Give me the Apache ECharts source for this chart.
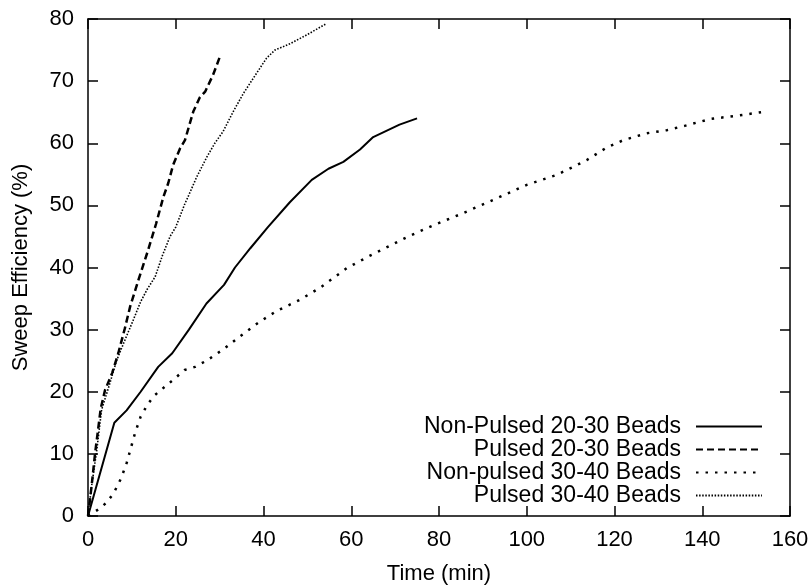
<!DOCTYPE html>
<html>
<head>
<meta charset="utf-8">
<script src="https://cdn.jsdelivr.net/npm/echarts@6/dist/echarts.min.js"></script>
<style>
html,body{margin:0;padding:0;background:#fff;}
#chart{width:811px;height:586px;}
</style>
</head>
<body>
<div id="chart"></div>
<script>
const seriesNames = ['Non-Pulsed 20-30 Beads', 'Pulsed 20-30 Beads', 'Non-pulsed 30-40 Beads', 'Pulsed 30-40 Beads'];

const nonPulsed2030 = [[0,0],[6,15],[8.8,17],[12,20],[16,24],[19.2,26.2],[23,30],[27,34.2],[31,37.2],[33.5,40],[37,43.1],[41,46.5],[46,50.5],[51,54.1],[54.8,55.9],[58.2,57],[62,59],[65,61],[68,62],[71,63],[75,64]];

const pulsed2030 = [[0,0],[0.8,4.7],[1.6,10],[2.9,17.3],[3.9,20.3],[5.5,23],[6.9,26.2],[8.4,30.2],[9.6,33.7],[11.5,38],[13.7,42.8],[15.5,47],[17.2,51.4],[18.3,53.6],[19.4,56.5],[21,59.2],[22.1,60.5],[24,65.1],[25.5,67.4],[26.7,68.3],[28.5,71],[30.1,74]];

const nonPulsed3040 = [[0,0],[2,0.9],[4,2],[5.8,3.6],[7.5,6],[8.8,8.5],[10.7,13.3],[12,16],[13.7,18.1],[15.3,19.5],[17,20.5],[19.4,21.9],[22,23.5],[24.4,24],[27,25],[30.8,26.8],[34.6,28.9],[39,31.2],[43,33],[48.3,34.8],[53,36.8],[59,39.9],[64,41.8],[68.8,43.5],[73,45],[78.7,46.8],[85,48.6],[92.4,50.9],[100,53.3],[106.8,54.9],[110.6,56.2],[113.7,57.3],[118.2,59.3],[122,60.5],[127.3,61.6],[131.9,62.1],[136,62.8],[141.8,63.9],[148.6,64.5],[153.4,65]];

const pulsed3040 = [[0,0],[0.8,4.7],[2,10.6],[3.1,17.1],[5,21.4],[6.5,25],[8.4,28.3],[10,31],[12,34.5],[13.5,36.5],[15.3,38.5],[17,42],[18.7,45],[20,46.5],[22.1,50.3],[22.5,50.9],[24.8,54.6],[27.1,57.8],[28.9,60],[30.8,61.9],[33.1,65.1],[35.4,68],[37.7,70.5],[40.7,73.7],[42.6,75],[46,76],[50,77.5],[54.2,79.2]];

const xTicks = {min: 0, max: 160, interval: 20};
const yTicks = {min: 0, max: 80, interval: 10};

const FONT = '"Liberation Sans", Arial, Helvetica, sans-serif';
const FS = 22;
function frameLine() { return {show: true, onZero: false, lineStyle: {color: '#000', width: 1.5}}; }
function frameTick() { return {show: true, inside: true, length: 10, lineStyle: {color: '#000', width: 1.5}}; }

const chart = echarts.init(document.getElementById('chart'), null, {renderer: 'canvas'});
chart.setOption({
  animation: false,
  backgroundColor: '#fff',
  grid: {left: 88, right: 21, top: 19, bottom: 70, containLabel: false, outerBoundsMode: 'none'},
  legend: {
    orient: 'vertical',
    right: 48,
    top: 415,
    padding: 0,
    align: 'right',
    itemWidth: 66,
    itemHeight: 14,
    itemGap: 0,
    data: seriesNames,
    itemStyle: {opacity: 0},
    textStyle: {fontFamily: FONT, fontSize: 23, color: '#000', lineHeight: 22.7, padding: [0, 10, 0, 0]}
  },
  xAxis: [{
    type: 'value', position: 'bottom', min: xTicks.min, max: xTicks.max, interval: xTicks.interval,
    name: 'Time (min)', nameLocation: 'middle', nameGap: 47,
    nameTextStyle: {fontFamily: FONT, fontSize: FS, color: '#000'},
    axisLine: frameLine(), axisTick: frameTick(), splitLine: {show: false},
    axisLabel: {fontFamily: FONT, fontSize: FS, color: '#000', margin: 13}
  }, {
    type: 'value', position: 'top', min: xTicks.min, max: xTicks.max, interval: xTicks.interval,
    axisLine: frameLine(), axisTick: frameTick(), splitLine: {show: false}, axisLabel: {show: false}
  }],
  yAxis: [{
    type: 'value', position: 'left', min: yTicks.min, max: yTicks.max, interval: yTicks.interval,
    name: 'Sweep Efficiency (%)', nameLocation: 'middle', nameGap: 56,
    nameTextStyle: {fontFamily: FONT, fontSize: FS, color: '#000'},
    axisLine: frameLine(), axisTick: frameTick(), splitLine: {show: false},
    axisLabel: {fontFamily: FONT, fontSize: FS, color: '#000', margin: 14}
  }, {
    type: 'value', position: 'right', min: yTicks.min, max: yTicks.max, interval: yTicks.interval,
    axisLine: frameLine(), axisTick: frameTick(), splitLine: {show: false}, axisLabel: {show: false}
  }],
  series: [{
    name: seriesNames[0], type: 'line', data: nonPulsed2030, symbol: 'none', color: '#000',
    lineStyle: {color: '#000', width: 2, type: 'solid'}
  }, {
    name: seriesNames[1], type: 'line', data: pulsed2030, symbol: 'none', color: '#000',
    lineStyle: {color: '#000', width: 2.5, type: [7, 4], cap: 'butt'}
  }, {
    name: seriesNames[2], type: 'line', data: nonPulsed3040, symbol: 'none', color: '#000',
    lineStyle: {color: '#000', width: 2.5, type: [2.5, 7], cap: 'butt'}
  }, {
    name: seriesNames[3], type: 'line', data: pulsed3040, symbol: 'none', color: '#000',
    lineStyle: {color: '#000', width: 1.6, type: [1.5, 1.6], cap: 'butt'}
  }, {
    name: 'frame', type: 'line', data: [], xAxisIndex: 1, yAxisIndex: 1, symbol: 'none', silent: true
  }]
});
</script>
</body>
</html>
